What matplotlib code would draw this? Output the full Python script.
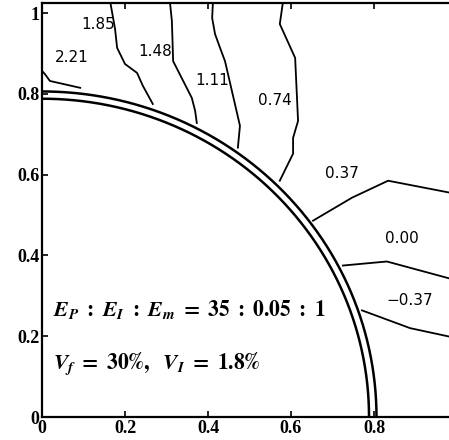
import numpy as np
import matplotlib
matplotlib.use('Agg')
from matplotlib import pyplot as plt

# contour polylines (x, y)
c221_x = [0.0, 0.007, 0.019, 0.092]
c221_y = [0.857, 0.849, 0.832, 0.815]
c185_x = [0.164, 0.176, 0.181, 0.200, 0.229, 0.243, 0.267]
c185_y = [1.03, 0.961, 0.914, 0.874, 0.852, 0.820, 0.775]
c148_x = [0.308, 0.313, 0.316, 0.361, 0.369, 0.373]
c148_y = [1.03, 0.98, 0.881, 0.790, 0.758, 0.728]
c111_x = [0.412, 0.410, 0.417, 0.429, 0.441, 0.477, 0.472]
c111_y = [1.03, 0.988, 0.948, 0.914, 0.881, 0.721, 0.667]
c074_x = [0.581, 0.573, 0.610, 0.617, 0.605, 0.605, 0.573]
c074_y = [1.03, 0.973, 0.889, 0.733, 0.691, 0.652, 0.585]
c037_x = [0.653, 0.747, 0.834, 1.0]
c037_y = [0.486, 0.543, 0.585, 0.552]
c000_x = [0.725, 0.831, 1.0]
c000_y = [0.375, 0.385, 0.338]
cm037_x = [0.771, 0.887, 1.0]
cm037_y = [0.264, 0.220, 0.195]

lines = [(c221_x, c221_y), (c185_x, c185_y), (c148_x, c148_y), (c111_x, c111_y),
         (c074_x, c074_y), (c037_x, c037_y), (c000_x, c000_y), (cm037_x, cm037_y)]

labels = ['2.21', '1.85', '1.48', '1.11', '0.74', '0.37', '0.00', '\u22120.37']
label_x = [0.072, 0.135, 0.272, 0.410, 0.561, 0.723, 0.867, 0.887]
label_y = [0.889, 0.973, 0.906, 0.832, 0.783, 0.602, 0.442, 0.289]

# interphase circle radii
r_inner = 0.788
r_outer = 0.806

plt.rcParams['mathtext.fontset'] = 'stix'

fig = plt.figure(figsize=(4.49, 4.40), dpi=100)
ax = fig.add_axes([42 / 449, 23 / 440, 415 / 449, 414 / 440])

for xs, ys in lines:
    ax.plot(xs, ys, color='black', lw=1.3)

t = np.linspace(0, np.pi / 2, 300)
for r in [r_inner, r_outer]:
    ax.plot(r * np.cos(t), r * np.sin(t), color='black', lw=1.8)

for s, x, y in zip(labels, label_x, label_y):
    ax.text(x, y, s, ha='center', va='center', fontsize=11, family='DejaVu Sans')

ax.text(0.027, 0.265,
        r'$\mathbfit{E_P}\ \mathbf{:}\ \mathbfit{E_I}\ \mathbf{:}\ \mathbfit{E_m}\ \mathbf{=\ 35\ :\ 0.05\ :\ 1}$',
        fontsize=15.5, va='center', ha='left')
ax.text(0.027, 0.129,
        r'$\mathbfit{V_f}\ \mathbf{=\ 30\%,}\ \ \mathbfit{V_I}\ \mathbf{=\ 1.8\%}$',
        fontsize=15.5, va='center', ha='left')

ax.set_xlim(0, 1.0)
ax.set_ylim(0, 1.025)
ax.set_xticks([0, 0.2, 0.4, 0.6, 0.8])
ax.set_xticklabels(['0', '0.2', '0.4', '0.6', '0.8'])
ax.set_yticks([0, 0.2, 0.4, 0.6, 0.8, 1.0])
ax.set_yticklabels(['0', '0.2', '0.4', '0.6', '0.8', '1'])
ax.tick_params(direction='in', length=4, width=1.2, top=True, right=True, pad=2)
for lab in ax.get_xticklabels() + ax.get_yticklabels():
    lab.set_family('Liberation Serif')
    lab.set_fontweight('bold')
    lab.set_fontsize(13)
for sp in ax.spines.values():
    sp.set_linewidth(1.6)

fig.savefig('out.png', dpi=100)
